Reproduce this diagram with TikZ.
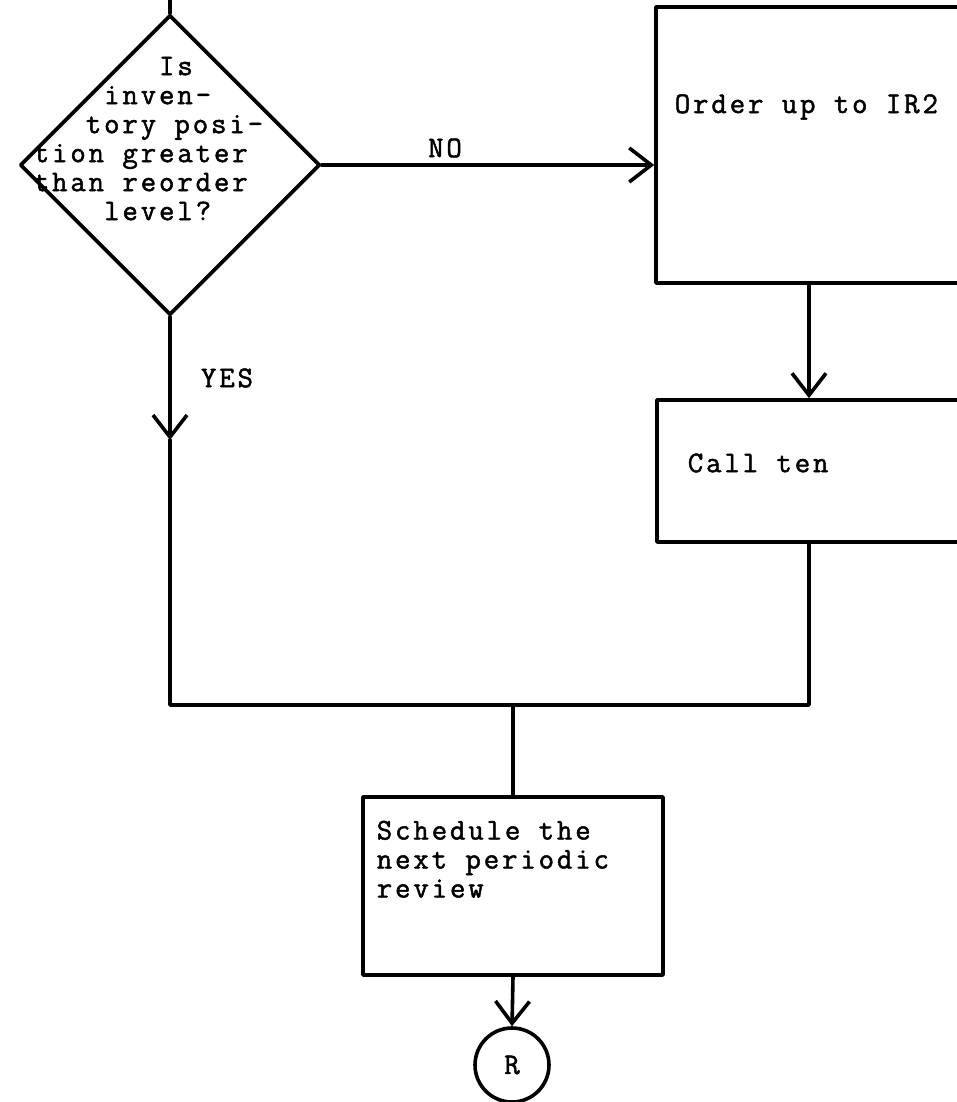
\documentclass[tikz,border=0pt]{standalone}
\usepackage{fontspec}
\newfontfamily\tw[FakeBold=1.6,LetterSpace=9.5]{Latin Modern Mono}
\usetikzlibrary{shapes.geometric,arrows.meta}
\begin{document}
\begin{tikzpicture}[x=1pt,y=1pt, line width=3.6pt, line cap=round, line join=round,
  box/.style={draw, rectangle, inner sep=0pt},
  arr/.style={-{Straight Barb[length=22pt,width=34pt]}},
  txt/.style={inner sep=0pt, font=\tw\fontsize{30}{29}\selectfont, align=left}]
\useasboundingbox (0,0) rectangle (957,-1102);
\clip (0,0) rectangle (957,-1102);

% shapes
\node[diamond, draw, minimum width=300pt, minimum height=300pt, inner sep=0pt] (dec) at (170,-165) {};
\node[box, minimum width=306pt, minimum height=276pt] (order) at (809,-145) {};
\node[box, minimum width=304pt, minimum height=142pt] (call) at (809,-471) {};
\node[box, minimum width=300pt, minimum height=178pt] (sched) at (513,-886) {};
\node[circle, draw, minimum size=74pt, inner sep=0pt, font=\tw\fontsize{30}{29}\selectfont] (R) at (512,-1065) {R};

% texts
\node[txt, anchor=north west] (dectxt) at (32,-55)
  {\phantom{xxxxxxx}Is\\\phantom{xxxx}inven-\\\phantom{xxx}tory posi-\\tion greater\\than reorder\\\phantom{xxxx}level?};
\node[txt, anchor=west] (ordertxt) at (673,-107) {Order up to IR2};
\node[txt, anchor=west] (calltxt) at (686,-463) {Call ten};
\node[txt, anchor=north west] (schedtxt) at (375,-819) {Schedule the\\next periodic\\review};
\node[txt] (no) at (445,-148) {NO};
\node[txt] (yes) at (227,-378) {YES};

% connectors
\coordinate (topend) at (170,0);
\coordinate (yesarr) at (170,-440);
\coordinate (jl) at (170,-705);
\draw (topend) -- (dec.north);
\draw[arr] (dec.east) -- (dec.east -| order.west);
\draw[arr] (order.south) -- (call.north);
\draw[arr] (dec.south) -- (yesarr);
\draw (yesarr) -- (jl) -- (jl -| call.south) -- (call.south);
\draw (jl -| sched.north) -- (sched.north);
\draw[arr] (sched.south) -- (R.north);
\end{tikzpicture}
\end{document}
